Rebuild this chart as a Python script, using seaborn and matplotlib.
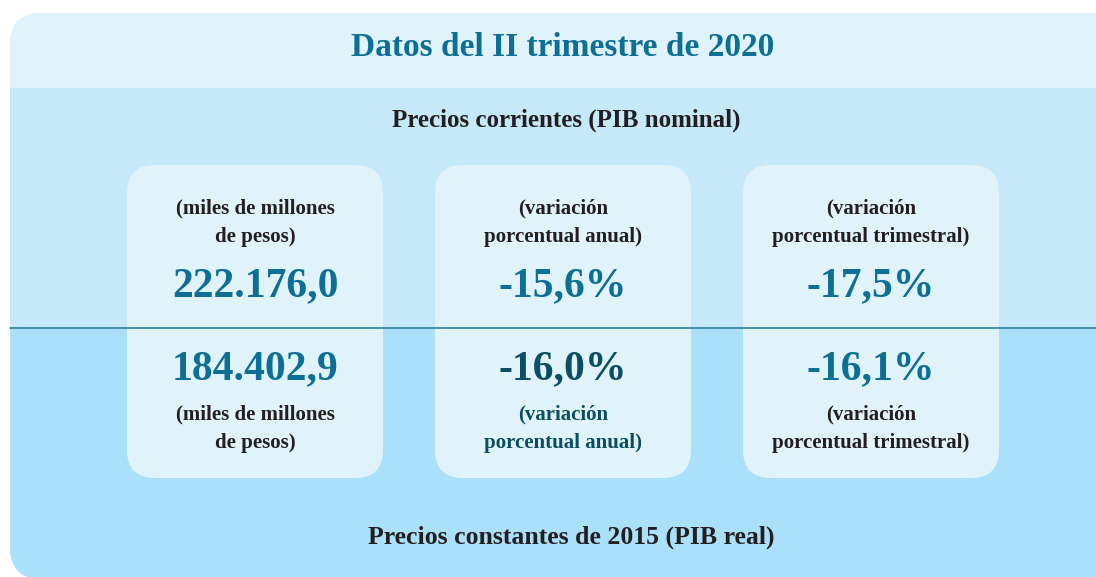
import matplotlib.pyplot as plt
import seaborn as sns
from matplotlib.patches import FancyBboxPatch, Rectangle

titulo = "Datos del II trimestre de 2020"
sub_nominal = "Precios corrientes (PIB nominal)"
sub_real = "Precios constantes de 2015 (PIB real)"

etiquetas = ["(miles de millones\nde pesos)",
             "(variación\nporcentual anual)",
             "(variación\nporcentual trimestral)"]
valores_nominal = ["222.176,0", "-15,6%", "-17,5%"]
valores_real = ["184.402,9", "-16,0%", "-16,1%"]

azul = "#0d6e96"
azul_osc = "#0b4d63"
gris = "#231f20"
col_nominal = [azul, azul, azul]
col_real = [azul, azul_osc, azul]
col_etq_real = [gris, azul_osc, gris]

sns.set_style("white")
plt.rcParams['font.family'] = ['Liberation Serif', 'DejaVu Serif']

fig = plt.figure(figsize=(10.96, 5.77), dpi=100)
ax = fig.add_axes([0, 0, 1, 1])
ax.set_xlim(0, 1096)
ax.set_ylim(577, 0)
ax.axis("off")

# panel exterior redondeado
panel = FancyBboxPatch((10, 13), 1130, 566, boxstyle="round,pad=0,rounding_size=32",
                       fc="#aae0fa", ec="none")
ax.add_patch(panel)
for y0, h, c in [(13, 75, "#e0f3fb"), (88, 240, "#c5e9f9"), (328, 260, "#aae0fa")]:
    r = Rectangle((0, y0), 1200, h, fc=c, ec="none")
    ax.add_patch(r)
    r.set_clip_path(panel)
ax.plot([10, 1096], [327.5, 327.5], color="#2f7fa1", lw=1.2)

# tarjetas
xs = [127, 435, 743]
for i, x in enumerate(xs):
    ax.add_patch(FancyBboxPatch((x, 165), 256, 313, boxstyle="round,pad=0,rounding_size=28",
                                fc="#e0f3fb", ec="none"))
    cx = x + 128
    l1, l2 = etiquetas[i].split("\n")
    ax.text(cx, 208, l1, ha="center", va="center", fontsize=15, fontweight="bold", color=gris)
    ax.text(cx, 237, l2, ha="center", va="center", fontsize=15, fontweight="bold", color=gris)
    ax.text(cx, 286, valores_nominal[i], ha="center", va="center", fontsize=30,
            fontweight="bold", color=col_nominal[i])
    ax.text(cx, 369, valores_real[i], ha="center", va="center", fontsize=30,
            fontweight="bold", color=col_real[i])
    ax.text(cx, 414, l1, ha="center", va="center", fontsize=15, fontweight="bold", color=col_etq_real[i])
    ax.text(cx, 443, l2, ha="center", va="center", fontsize=15, fontweight="bold", color=col_etq_real[i])

ax.text(563, 47, titulo, ha="center", va="center", fontsize=24, fontweight="bold", color=azul)
ax.text(566, 120, sub_nominal, ha="center", va="center", fontsize=18, fontweight="bold", color=gris)
ax.text(571, 537, sub_real, ha="center", va="center", fontsize=18.5, fontweight="bold", color=gris)

fig.savefig("out.png", dpi=100)
